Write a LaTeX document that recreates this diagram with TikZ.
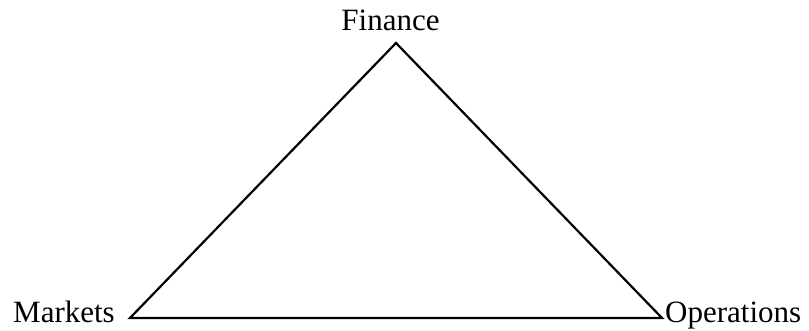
\documentclass[tikz,border=0pt]{standalone}
\usepackage{fontspec}
\setmainfont{Liberation Serif}
\usepackage{tikz}
\usetikzlibrary{positioning}

\begin{document}
\begin{tikzpicture}[x=1pt,y=1pt,
   every node/.style={font=\fontsize{31}{36}\selectfont,inner sep=0pt},
   side/.style={line width=2.2pt,line join=miter}
]
\useasboundingbox (0,0) rectangle (809,331);

% Corners
\coordinate (F) at (396,288);
\coordinate (M) at (130,13);
\coordinate (O) at (662,13);

% Labels
\node[anchor=base] (fin) at (390.5,300) {Finance};
\node[anchor=base east] (mkt) at (115,8) {Markets};
\node[anchor=base west] (ops) at (665,8) {Operations};

% Triangle
\draw[side] (M) -- (F) -- (O) -- cycle;

\end{tikzpicture}
\end{document}
